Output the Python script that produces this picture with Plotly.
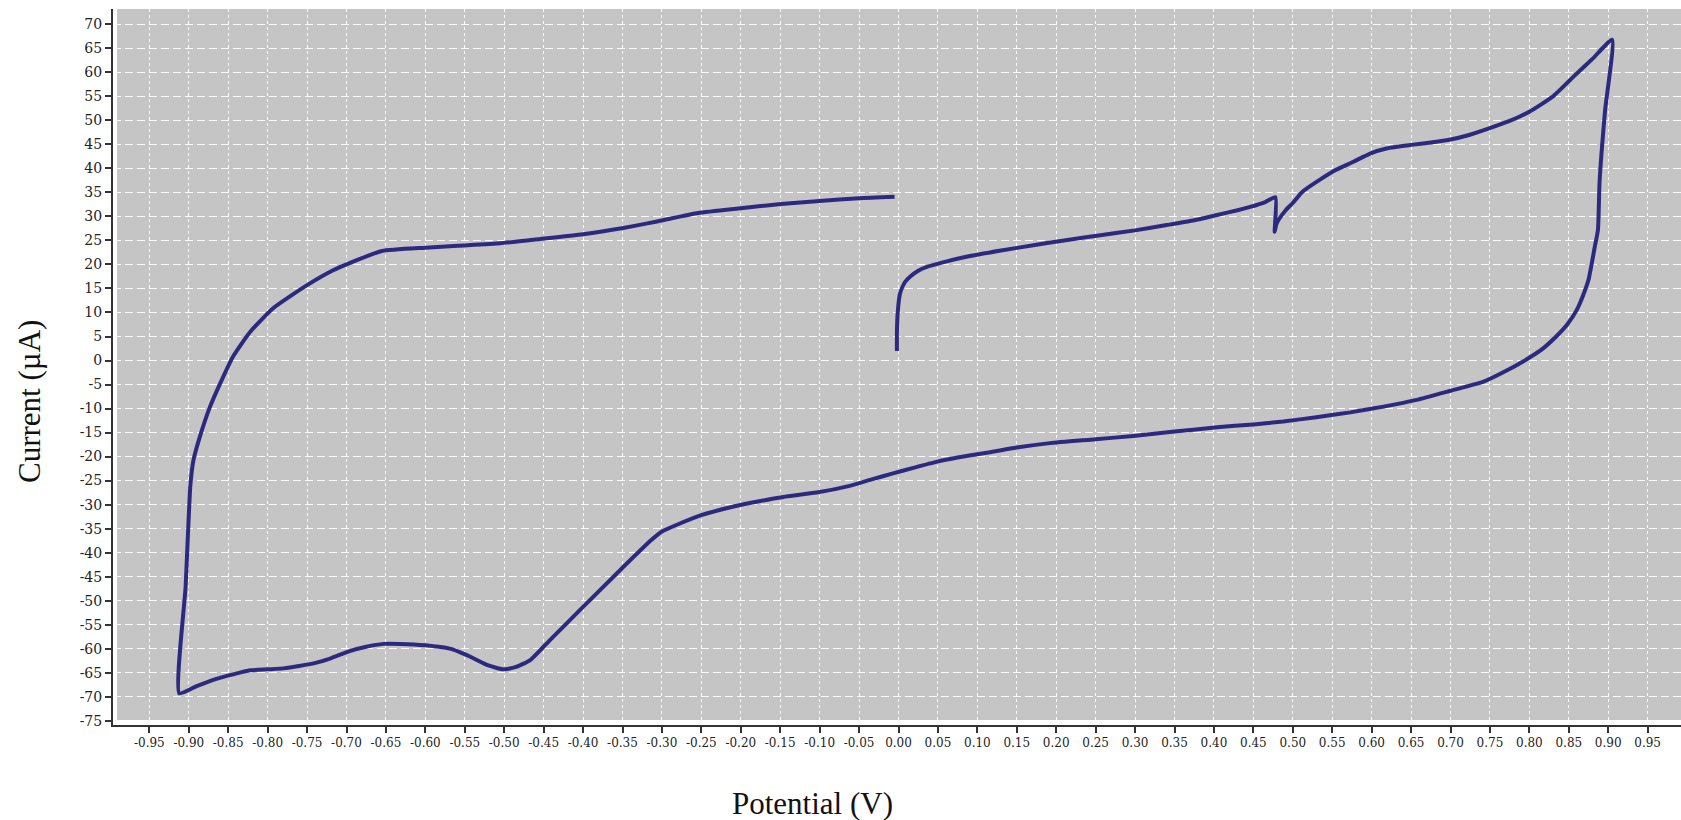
import plotly.graph_objects as go

# Cyclic voltammogram (Potential in V, Current in µA)
potential = [
    -0.002, -0.002, -0.001, 0.002, 0.008, 0.015, 0.025, 0.036, 0.06, 0.086, 0.13, 0.171, 0.21, 0.256,
    0.30, 0.340, 0.375, 0.404, 0.43, 0.446, 0.465, 0.478,
    0.477, 0.479, 0.482, 0.491, 0.50, 0.512, 0.534, 0.555, 0.577, 0.598, 0.620, 0.650, 0.675,
    0.697, 0.72, 0.748, 0.775, 0.800, 0.83, 0.856, 0.88, 0.905,
    0.896, 0.889, 0.887, 0.883, 0.875, 0.868, 0.860, 0.848, 0.834, 0.815, 0.792, 0.77, 0.742,
    0.70, 0.657, 0.615, 0.573, 0.53, 0.488, 0.45, 0.404, 0.35, 0.298, 0.25, 0.192, 0.15, 0.108,
    0.075, 0.048, 0.02, -0.007, -0.035, -0.062, -0.104, -0.146, -0.18, -0.209, -0.25, -0.281,
    -0.300, -0.315, -0.357, -0.400, -0.442, -0.467, -0.485, -0.501, -0.52, -0.548, -0.569, -0.60,
    -0.632, -0.653, -0.675, -0.696, -0.72, -0.738, -0.760, -0.780, -0.800, -0.822, -0.845, -0.865,
    -0.89, -0.912,
    -0.904, -0.898, -0.894, -0.886, -0.873, -0.860, -0.844, -0.822, -0.793, -0.750, -0.717,
    -0.696, -0.655, -0.6, -0.559, -0.505, -0.454, -0.40, -0.349, -0.320, -0.296, -0.254, -0.20,
    -0.149, -0.10, -0.05, -0.005,
]
current = [
    2.0, 6.0, 10.0, 14.0, 16.3, 17.5, 18.7, 19.5, 20.6, 21.6, 22.9, 24.0, 25.0, 26.1,
    27.1, 28.2, 29.2, 30.3, 31.3, 32.0, 33.0, 34.0,
    26.8, 28.3, 29.3, 31.3, 32.8, 35.1, 37.6, 39.7, 41.4, 43.1, 44.2, 44.9, 45.4,
    45.9, 46.8, 48.3, 49.9, 51.8, 55.0, 59.1, 62.8, 66.8,
    52.0, 37.1, 27.2, 23.7, 16.8, 13.5, 10.5, 7.5, 5.0, 2.2, -0.2, -2.2, -4.4,
    -6.3, -8.2, -9.6, -10.8, -11.8, -12.7, -13.3, -13.9, -14.8, -15.7, -16.4, -17.2, -18.1, -19.3,
    -20.2, -21.1, -22.3, -23.5, -24.8, -26.1, -27.5, -28.4, -29.4, -30.4, -32.2, -34.2,
    -35.6, -37.6, -44.3, -51.3, -58.2, -62.4, -63.8, -64.3, -63.5, -61.3, -60.0, -59.3,
    -59.0, -59.0, -59.6, -60.5, -62.0, -62.9, -63.6, -64.1, -64.3, -64.5, -65.4, -66.3,
    -67.8, -69.3,
    -47.0, -26.0, -20.7, -15.9, -9.6, -4.7, 0.8, 6.0, 10.9, 15.7, 18.8,
    20.3, 22.8, 23.5, 23.9, 24.4, 25.3, 26.3, 27.6, 28.5, 29.3, 30.7, 31.7,
    32.6, 33.2, 33.8, 34.1,
]

x_ticks = [-0.95, -0.90, -0.85, -0.80, -0.75, -0.70, -0.65, -0.60, -0.55, -0.50, -0.45, -0.40,
           -0.35, -0.30, -0.25, -0.20, -0.15, -0.10, -0.05, 0.00, 0.05, 0.10, 0.15, 0.20, 0.25,
           0.30, 0.35, 0.40, 0.45, 0.50, 0.55, 0.60, 0.65, 0.70, 0.75, 0.80, 0.85, 0.90, 0.95]
y_ticks = [-75, -70, -65, -60, -55, -50, -45, -40, -35, -30, -25, -20, -15, -10, -5, 0,
           5, 10, 15, 20, 25, 30, 35, 40, 45, 50, 55, 60, 65, 70]

x_title = "Potential (V)"
y_title = "Current (µA)"

fig = go.Figure()
fig.add_trace(go.Scatter(
    x=potential, y=current, mode="lines",
    line=dict(color="#2c2a7e", width=4, shape="spline", smoothing=0.5),
    showlegend=False, hoverinfo="skip",
))

# gray plotting area (slightly inset from the axis lines)
fig.add_shape(type="rect", xref="paper", yref="paper", x0=0.0026, x1=1, y0=0.007, y1=1,
              fillcolor="#c5c5c5", line=dict(width=0), layer="below")

fig.update_layout(
    width=1681, height=820,
    margin=dict(l=113, r=0, t=9, b=95),
    paper_bgcolor="white", plot_bgcolor="white",
    font=dict(family="DejaVu Serif", color="#222"),
    xaxis=dict(
        range=[-0.9961, 0.9923], tickmode="array", tickvals=x_ticks,
        ticktext=[f"{v:.2f}" for v in x_ticks],
        tickfont=dict(family="DejaVu Serif", size=12, color="#222"),
        ticks="outside", ticklen=6, tickwidth=1.5, tickcolor="#333",
        showline=True, linecolor="#333", linewidth=2,
        showgrid=True, gridcolor="rgba(255,255,255,0.95)", gridwidth=1, griddash="3px,3px",
        zeroline=False,
    ),
    yaxis=dict(
        range=[-75.89, 73.19], tickmode="array", tickvals=y_ticks,
        ticktext=[str(v) for v in y_ticks],
        tickfont=dict(family="DejaVu Serif", size=14, color="#222"),
        ticks="outside", ticklen=6, tickwidth=1.5, tickcolor="#333",
        showline=True, linecolor="#333", linewidth=2,
        showgrid=True, gridcolor="rgba(255,255,255,0.95)", gridwidth=1, griddash="8px,4px",
        zeroline=False,
    ),
    annotations=[
        dict(text=x_title, xref="paper", yref="paper", x=(812 - 113) / 1568, y=-(803 - 725) / 716,
             xanchor="center", yanchor="middle", showarrow=False,
             font=dict(family="Liberation Serif", size=31, color="#111")),
        dict(text=y_title, xref="paper", yref="paper", x=-(113 - 29) / 1568, y=1 - (402 - 9) / 716,
             xanchor="center", yanchor="middle", showarrow=False, textangle=-90,
             font=dict(family="Liberation Serif", size=31, color="#111")),
    ],
)

fig.write_html("out.html", config={"displayModeBar": False},
               post_script="document.body.style.margin='0';")
